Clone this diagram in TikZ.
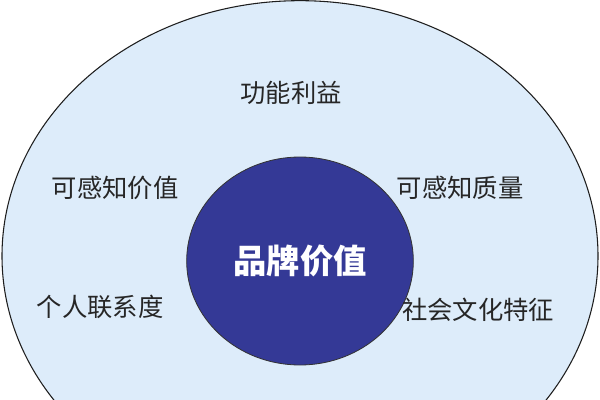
\documentclass[tikz,border=0pt]{standalone}
\usepackage{fontspec}
\setmainfont{Noto Sans CJK SC}
\usepackage{xcolor}
\usepackage{tikz}
\usetikzlibrary{shapes.geometric}

\definecolor{ringblue}{RGB}{221,236,250}
\definecolor{coreblue}{RGB}{52,57,150}
\definecolor{rimgray}{RGB}{30,30,30}

\tikzset{
	ring/.style={ellipse, draw=rimgray, line width=0.8pt, fill=ringblue, inner sep=0pt},
	core/.style={ellipse, draw=black!80, line width=0.6pt, fill=coreblue, inner sep=0pt,
		text=white, font=\fontsize{25}{28}\selectfont\bfseries},
	factor/.style={text=black!85, inner sep=0pt, font=\fontsize{19}{22}\selectfont}
}

\begin{document}
\begin{tikzpicture}[x=0.75pt, y=-0.75pt]
			\useasboundingbox (0,0) rectangle (600,400);
			\clip (0,0) rectangle (600,400);
			\fill[white] (0,0) rectangle (600,400);
			\node[ring, minimum width=447pt, minimum height=383pt] at (300,256) (outer){};
			\node[core, minimum width=170pt, minimum height=156pt] at (300,261) (brand){品牌价值};
			\node[factor] at (291,93) (func){功能利益};
			\node[factor] at (115,188) (pvalue){可感知价值};
			\node[factor] at (460,188) (pquality){可感知质量};
			\node[factor] at (100,307) (personal){个人联系度};
			\node[factor] at (478,310) (social){社会文化特征};
		\end{tikzpicture}
\end{document}
